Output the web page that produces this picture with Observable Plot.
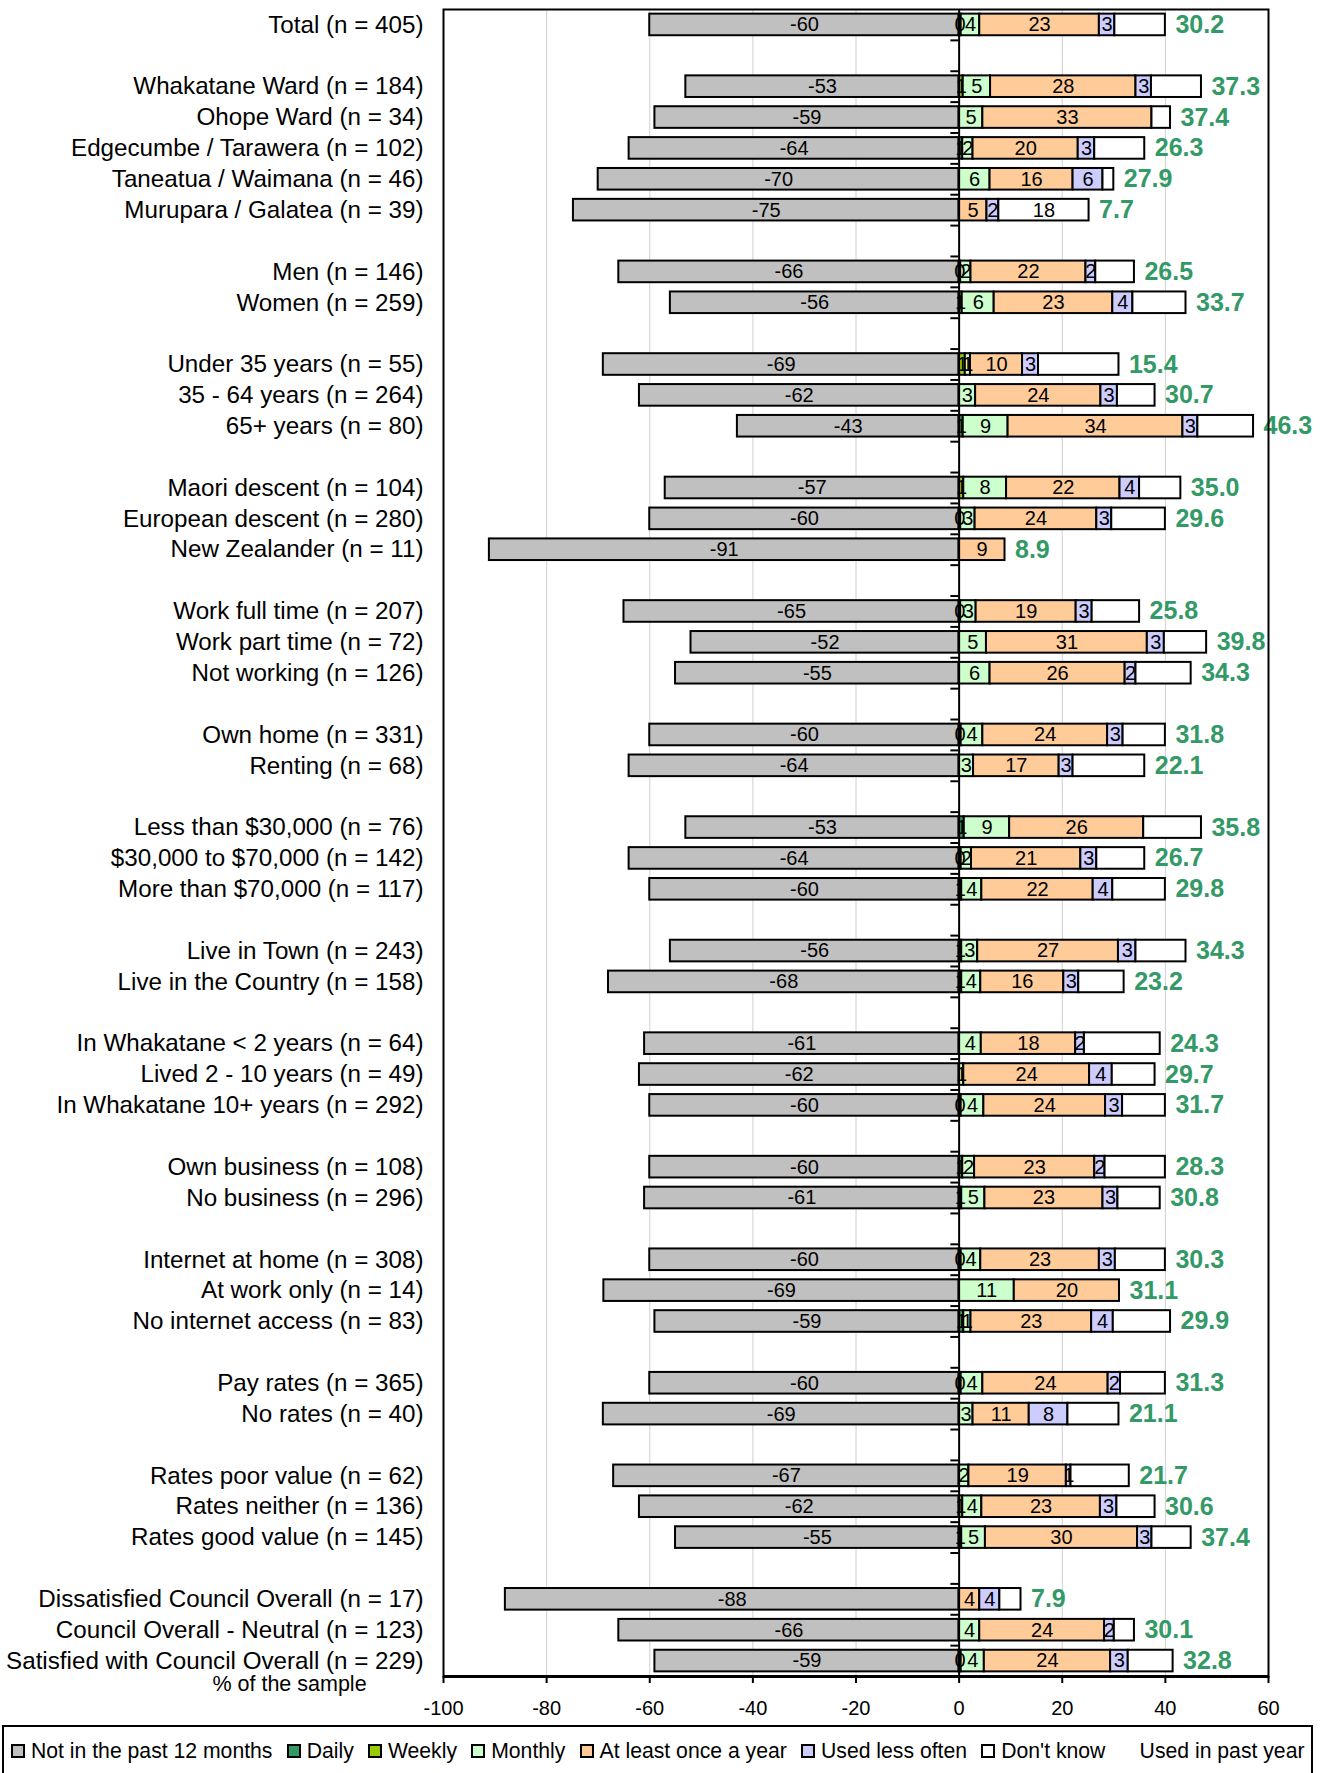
<!DOCTYPE html>
<html>
<head>
<meta charset="utf-8">
<script src="https://cdn.jsdelivr.net/npm/d3@7"></script>
<script src="https://cdn.jsdelivr.net/npm/@observablehq/plot@0.6"></script>
<style>
  html, body { margin: 0; padding: 0; background: #fff; overflow: hidden; }
  body { font-family: "Liberation Sans", Arial, sans-serif; }
  #chart svg { display: block; }
  #legend {
    margin-left: 2px; width: 1311px; height: 52px; box-sizing: border-box;
    border: 2px solid #000; display: flex; align-items: center; padding-left: 7px;
    font-size: 21.2px; color: #000; white-space: nowrap; overflow: hidden;
  }
  #legend .item { display: flex; align-items: center; margin-right: 14.2px; }
  #legend .sw { width: 14px; height: 14px; box-sizing: border-box; border: 2px solid #000; margin-right: 6px; flex: none; }
  #legend .sw.none { border: none; background: transparent; }
</style>
</head>
<body>
<div id="chart"></div>
<div id="legend"></div>
<script>
// ---------------- data ----------------
const categories = [
  "Total (n = 405)",
  "Whakatane Ward (n = 184)", "Ohope Ward (n = 34)", "Edgecumbe / Tarawera (n = 102)", "Taneatua / Waimana (n = 46)", "Murupara / Galatea (n = 39)",
  "Men (n = 146)", "Women (n = 259)",
  "Under 35 years (n = 55)", "35 - 64 years (n = 264)", "65+ years (n = 80)",
  "Maori descent (n = 104)", "European descent (n = 280)", "New Zealander (n = 11)",
  "Work full time (n = 207)", "Work part time (n = 72)", "Not working (n = 126)",
  "Own home (n = 331)", "Renting (n = 68)",
  "Less than $30,000 (n = 76)", "$30,000 to $70,000 (n = 142)", "More than $70,000 (n = 117)",
  "Live in Town (n = 243)", "Live in the Country (n = 158)",
  "In Whakatane < 2 years (n = 64)", "Lived 2 - 10 years (n = 49)", "In Whakatane 10+ years (n = 292)",
  "Own business (n = 108)", "No business (n = 296)",
  "Internet at home (n = 308)", "At work only (n = 14)", "No internet access (n = 83)",
  "Pay rates (n = 365)", "No rates (n = 40)",
  "Rates poor value (n = 62)", "Rates neither (n = 136)", "Rates good value (n = 145)",
  "Dissatisfied Council Overall (n = 17)", "Council Overall - Neutral (n = 123)", "Satisfied with Council Overall (n = 229)"
];
const groupSizes = [1, 5, 2, 3, 3, 3, 2, 3, 2, 3, 2, 3, 2, 3, 3];

const notPast12 = [60.0, 53.0, 59.0, 64.0, 70.0, 74.8, 66.0, 56.0, 69.0, 62.0, 43.0, 57.0, 60.0, 91.1, 65.0, 52.0, 55.0, 60.0, 64.0, 53.0, 64.0, 60.0, 56.0, 68.0, 61.0, 62.0, 60.0, 60.0, 61.0, 60.0, 68.9, 59.0, 60.0, 69.0, 67.0, 62.0, 55.0, 88.0, 66.0, 59.0];
const daily         = [0.4, 0, 0, 0.7, 0, 0, 0.3, 0, 0, 0, 0.8, 0, 0.3, 0, 0.3, 0, 0, 0.4, 0, 1.0, 0.4, 0, 0.5, 0.5, 0, 0, 0.4, 0.7, 0.5, 0.4, 0, 0.9, 0.4, 0, 0, 0, 0.5, 0, 0, 0.4];
const weekly        = [0, 0.8, 0, 0, 0, 0, 0, 0.6, 1.2, 0, 0, 0.9, 0, 0, 0, 0, 0, 0, 0, 0, 0, 0.5, 0, 0, 0, 0, 0, 0, 0, 0, 0, 0, 0, 0, 0, 0.7, 0, 0, 0, 0];
const monthly       = [3.6, 5.3, 4.6, 2.0, 6.0, 0, 2.0, 6.2, 1.0, 3.2, 8.7, 8.3, 2.8, 0, 3.0, 5.3, 6.0, 4.2, 2.8, 8.8, 2.0, 3.9, 3.1, 3.7, 4.3, 0.9, 4.4, 2.3, 4.5, 3.8, 10.7, 1.4, 4.2, 2.7, 1.9, 3.7, 4.6, 0, 4.0, 4.49];
const atLeastYearly = [23.2, 28.2, 32.8, 20.4, 16.1, 5.4, 22.3, 23.0, 10.1, 24.3, 33.9, 22.0, 23.6, 8.9, 19.4, 31.2, 26.2, 24.2, 16.6, 26.0, 21.2, 21.6, 27.3, 16.1, 18.3, 24.4, 23.6, 23.3, 22.9, 23.0, 20.4, 23.4, 24.3, 10.9, 18.9, 23.0, 29.5, 4.0, 24.2, 24.49];
const lessOften     = [3.0, 3.0, 0, 3.2, 5.8, 2.3, 1.9, 3.9, 3.1, 3.2, 2.9, 3.8, 2.9, 0, 3.1, 3.3, 2.1, 3.0, 2.7, 0, 3.1, 3.8, 3.4, 2.9, 1.7, 4.4, 3.3, 2.0, 2.9, 3.1, 0, 4.2, 2.4, 7.5, 0.9, 3.2, 2.8, 3.9, 1.9, 3.42];
const dontKnow      = [9.8, 9.7, 3.6, 9.7, 2.1, 17.5, 7.5, 10.3, 15.6, 7.3, 10.8, 8.0, 10.4, 0, 9.2, 8.2, 10.7, 8.2, 13.9, 11.2, 9.3, 10.2, 9.7, 8.8, 14.7, 8.3, 8.3, 11.7, 8.2, 9.7, 0, 11.1, 8.7, 9.9, 11.3, 7.4, 7.6, 4.1, 3.9, 8.7];
const usedPastYear  = [30.2, 37.3, 37.4, 26.3, 27.9, 7.7, 26.5, 33.7, 15.4, 30.7, 46.3, 35.0, 29.6, 8.9, 25.8, 39.8, 34.3, 31.8, 22.1, 35.8, 26.7, 29.8, 34.3, 23.2, 24.3, 29.7, 31.7, 28.3, 30.8, 30.3, 31.1, 29.9, 31.3, 21.1, 21.7, 30.6, 37.4, 7.9, 30.1, 32.8];

const seriesNames  = ["Not in the past 12 months", "Daily", "Weekly", "Monthly", "At least once a year", "Used less often", "Don't know"];
const seriesColors = ["#C0C0C0", "#339966", "#99CC00", "#CCFFCC", "#FFCC99", "#CCCCFF", "#FFFFFF"];
const dontKnowLabelled = ["Murupara / Galatea (n = 39)"];
const usedLabel = "Used in past year";
const xTicks = [-100, -80, -60, -40, -20, 0, 20, 40, 60];
const gridValues = [-80, -60, -40, -20, 20, 40];
const axisTitle = "% of the sample";

// ---------------- layout ----------------
const W = 1320, H = 1725;
const marginLeft = 443, marginRight = 52, marginTop = 9, marginBottom = 49;
const nSlots = d3.sum(groupSizes) + groupSizes.length - 1;

const slots = [];
{ let s = 0; groupSizes.forEach(n => { for (let i = 0; i < n; i++) slots.push(s++); s++; }); }

const rows = categories.map((label, i) => ({
  label, slot: slots[i], used: usedPastYear[i], end: usedPastYear[i] + dontKnow[i]
}));
const labelOf = new Map(rows.map(r => [r.slot + 0.5, r.label]));

const seriesData = [notPast12.map(v => -v), daily, weekly, monthly, atLeastYearly, lessOften, dontKnow];
const segs = [];
categories.forEach((label, i) => {
  seriesNames.forEach((name, k) => {
    const v = seriesData[k][i];
    if (v !== 0) segs.push({
      label, slot: slots[i], series: name, value: v,
      showLabel: name !== "Don't know" || dontKnowLabelled.includes(label)
    });
  });
});
const fmtSeg = v => (v < 0 ? "-" + Math.round(-v) : String(Math.round(v)));

const chart = Plot.plot({
  width: W, height: H, marginLeft, marginRight, marginTop, marginBottom,
  style: { fontFamily: '"Liberation Sans", Arial, sans-serif', fontSize: "20px", color: "black", background: "white", overflow: "visible" },
  x: { domain: [-100, 60], label: null },
  y: { domain: [0, nSlots], reverse: true, label: null },
  color: { domain: seriesNames, range: seriesColors },
  marks: [
    Plot.ruleX(gridValues, { stroke: "#d0d0d0", strokeWidth: 1 }),
    Plot.rectX(segs, {
      x: "value", y1: d => d.slot + 0.15, y2: d => d.slot + 0.85,
      fill: "series", z: "series", stroke: "black", strokeWidth: 2
    }),
    Plot.ruleX([0], { stroke: "black", strokeWidth: 2 }),
    Plot.ruleY(d3.range(1, nSlots), { x1: -1.6, x2: 0, stroke: "black", strokeWidth: 2 }),
    Plot.text(segs, Plot.stackX({
      x: "value", y: d => d.slot + 0.5, z: "series",
      text: d => d.showLabel ? fmtSeg(d.value) : "", fill: "black", fontSize: 20
    })),
    Plot.text(rows, {
      x: "end", y: d => d.slot + 0.5, text: d => d.used.toFixed(1),
      dx: 10, textAnchor: "start", fill: "#339966", fontWeight: "bold", fontSize: 25
    }),
    Plot.frame({ stroke: "black", strokeWidth: 2 }),
    Plot.ruleY([nSlots], { stroke: "black", strokeWidth: 3 }),
    Plot.axisY({
      ticks: rows.map(r => r.slot + 0.5), tickFormat: v => labelOf.get(v),
      tickSize: 0, tickPadding: 20, fontSize: 24.2, label: null
    }),
    Plot.axisX({
      ticks: xTicks, tickFormat: d => String(d), tickSize: 7, tickPadding: 17,
      fontSize: 20, strokeWidth: 2, label: null
    }),
    Plot.text([axisTitle], {
      frameAnchor: "bottom-left", dx: -154, dy: 8, textAnchor: "middle", lineAnchor: "middle",
      fontSize: 21.5, fill: "black"
    })
  ]
});
document.getElementById("chart").appendChild(chart);

// ---------------- legend ----------------
const legendItems = seriesNames.map((n, i) => ({ name: n, color: seriesColors[i] }))
  .concat([{ name: usedLabel, color: null }]);
const leg = d3.select("#legend");
const it = leg.selectAll(".item").data(legendItems).join("div").attr("class", "item");
it.append("div").attr("class", d => d.color ? "sw" : "sw none").style("background", d => d.color || "transparent");
it.append("span").text(d => d.name);
</script>
</body>
</html>
